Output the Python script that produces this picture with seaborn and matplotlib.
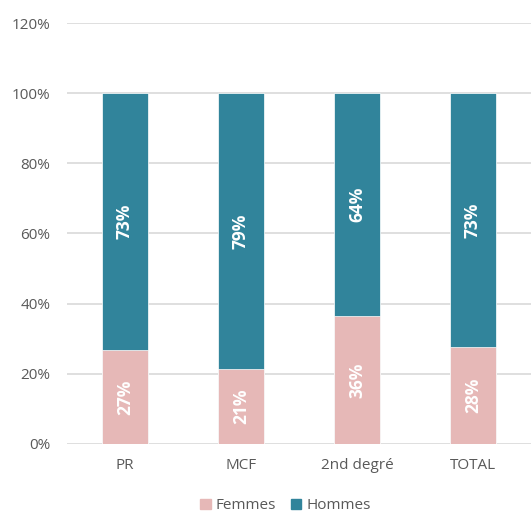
import matplotlib
matplotlib.use("Agg")
import matplotlib.pyplot as plt
import seaborn as sns
import pandas as pd
from matplotlib.patches import Patch

categories = ["PR", "MCF", "2nd degré", "TOTAL"]
femmes = [26.8, 21.4, 36.4, 27.6]
hommes = [73.2, 78.6, 63.6, 72.4]
femmes_labels = ["27%", "21%", "36%", "28%"]
hommes_labels = ["73%", "79%", "64%", "73%"]
yticks = [0, 20, 40, 60, 80, 100, 120]

c_f = "#E6B8B7"
c_h = "#31849B"
grey = "#595959"

sns.set_theme(style="white")
plt.rcParams['font.family'] = ['Open Sans', 'DejaVu Sans']

df = pd.DataFrame({
    "cat": categories,
    "femmes": femmes,
    "hommes": hommes,
})
df["total"] = df["femmes"] + df["hommes"]

fig = plt.figure(figsize=(5.31, 5.12), dpi=100)
ax = fig.add_axes([0.126, 0.133, 0.874, 0.822])

sns.barplot(data=df, x="cat", y="total", color=c_h, width=0.4, ax=ax,
            saturation=1, edgecolor="white", linewidth=0.5, zorder=3)
sns.barplot(data=df, x="cat", y="femmes", color=c_f, width=0.4, ax=ax,
            saturation=1, edgecolor="white", linewidth=0.5, zorder=3)

for i, (f, h) in enumerate(zip(femmes, hommes)):
    ax.text(i, f / 2, femmes_labels[i], rotation=90, ha="center", va="center",
            color="white", fontsize=12.5, fontweight="bold", zorder=4)
    ax.text(i, f + h / 2, hommes_labels[i], rotation=90, ha="center", va="center",
            color="white", fontsize=12.5, fontweight="bold", zorder=4)

ax.set_ylim(0, 120)
ax.set_xlim(-0.5, 3.5)
ax.set_yticks(yticks)
ax.set_yticklabels([f"{v}%" for v in yticks])
ax.yaxis.grid(True, color="#D9D9D9", linewidth=1.2, zorder=0)
ax.set_axisbelow(True)
for s in ax.spines.values():
    s.set_visible(False)
ax.tick_params(axis="both", length=0, colors=grey, labelsize=11)
ax.tick_params(axis="x", pad=10)
ax.tick_params(axis="y", pad=12)
ax.set_xlabel("")
ax.set_ylabel("")

handles = [Patch(color=c_f, label="Femmes"), Patch(color=c_h, label="Hommes")]
fig.legend(handles=handles, loc="center", bbox_to_anchor=(0.537, 0.012),
           ncol=2, frameon=False, fontsize=11, labelcolor=grey,
           handlelength=0.7, handleheight=0.7, handletextpad=0.3, columnspacing=1.0)

fig.savefig("out.png", dpi=100)
